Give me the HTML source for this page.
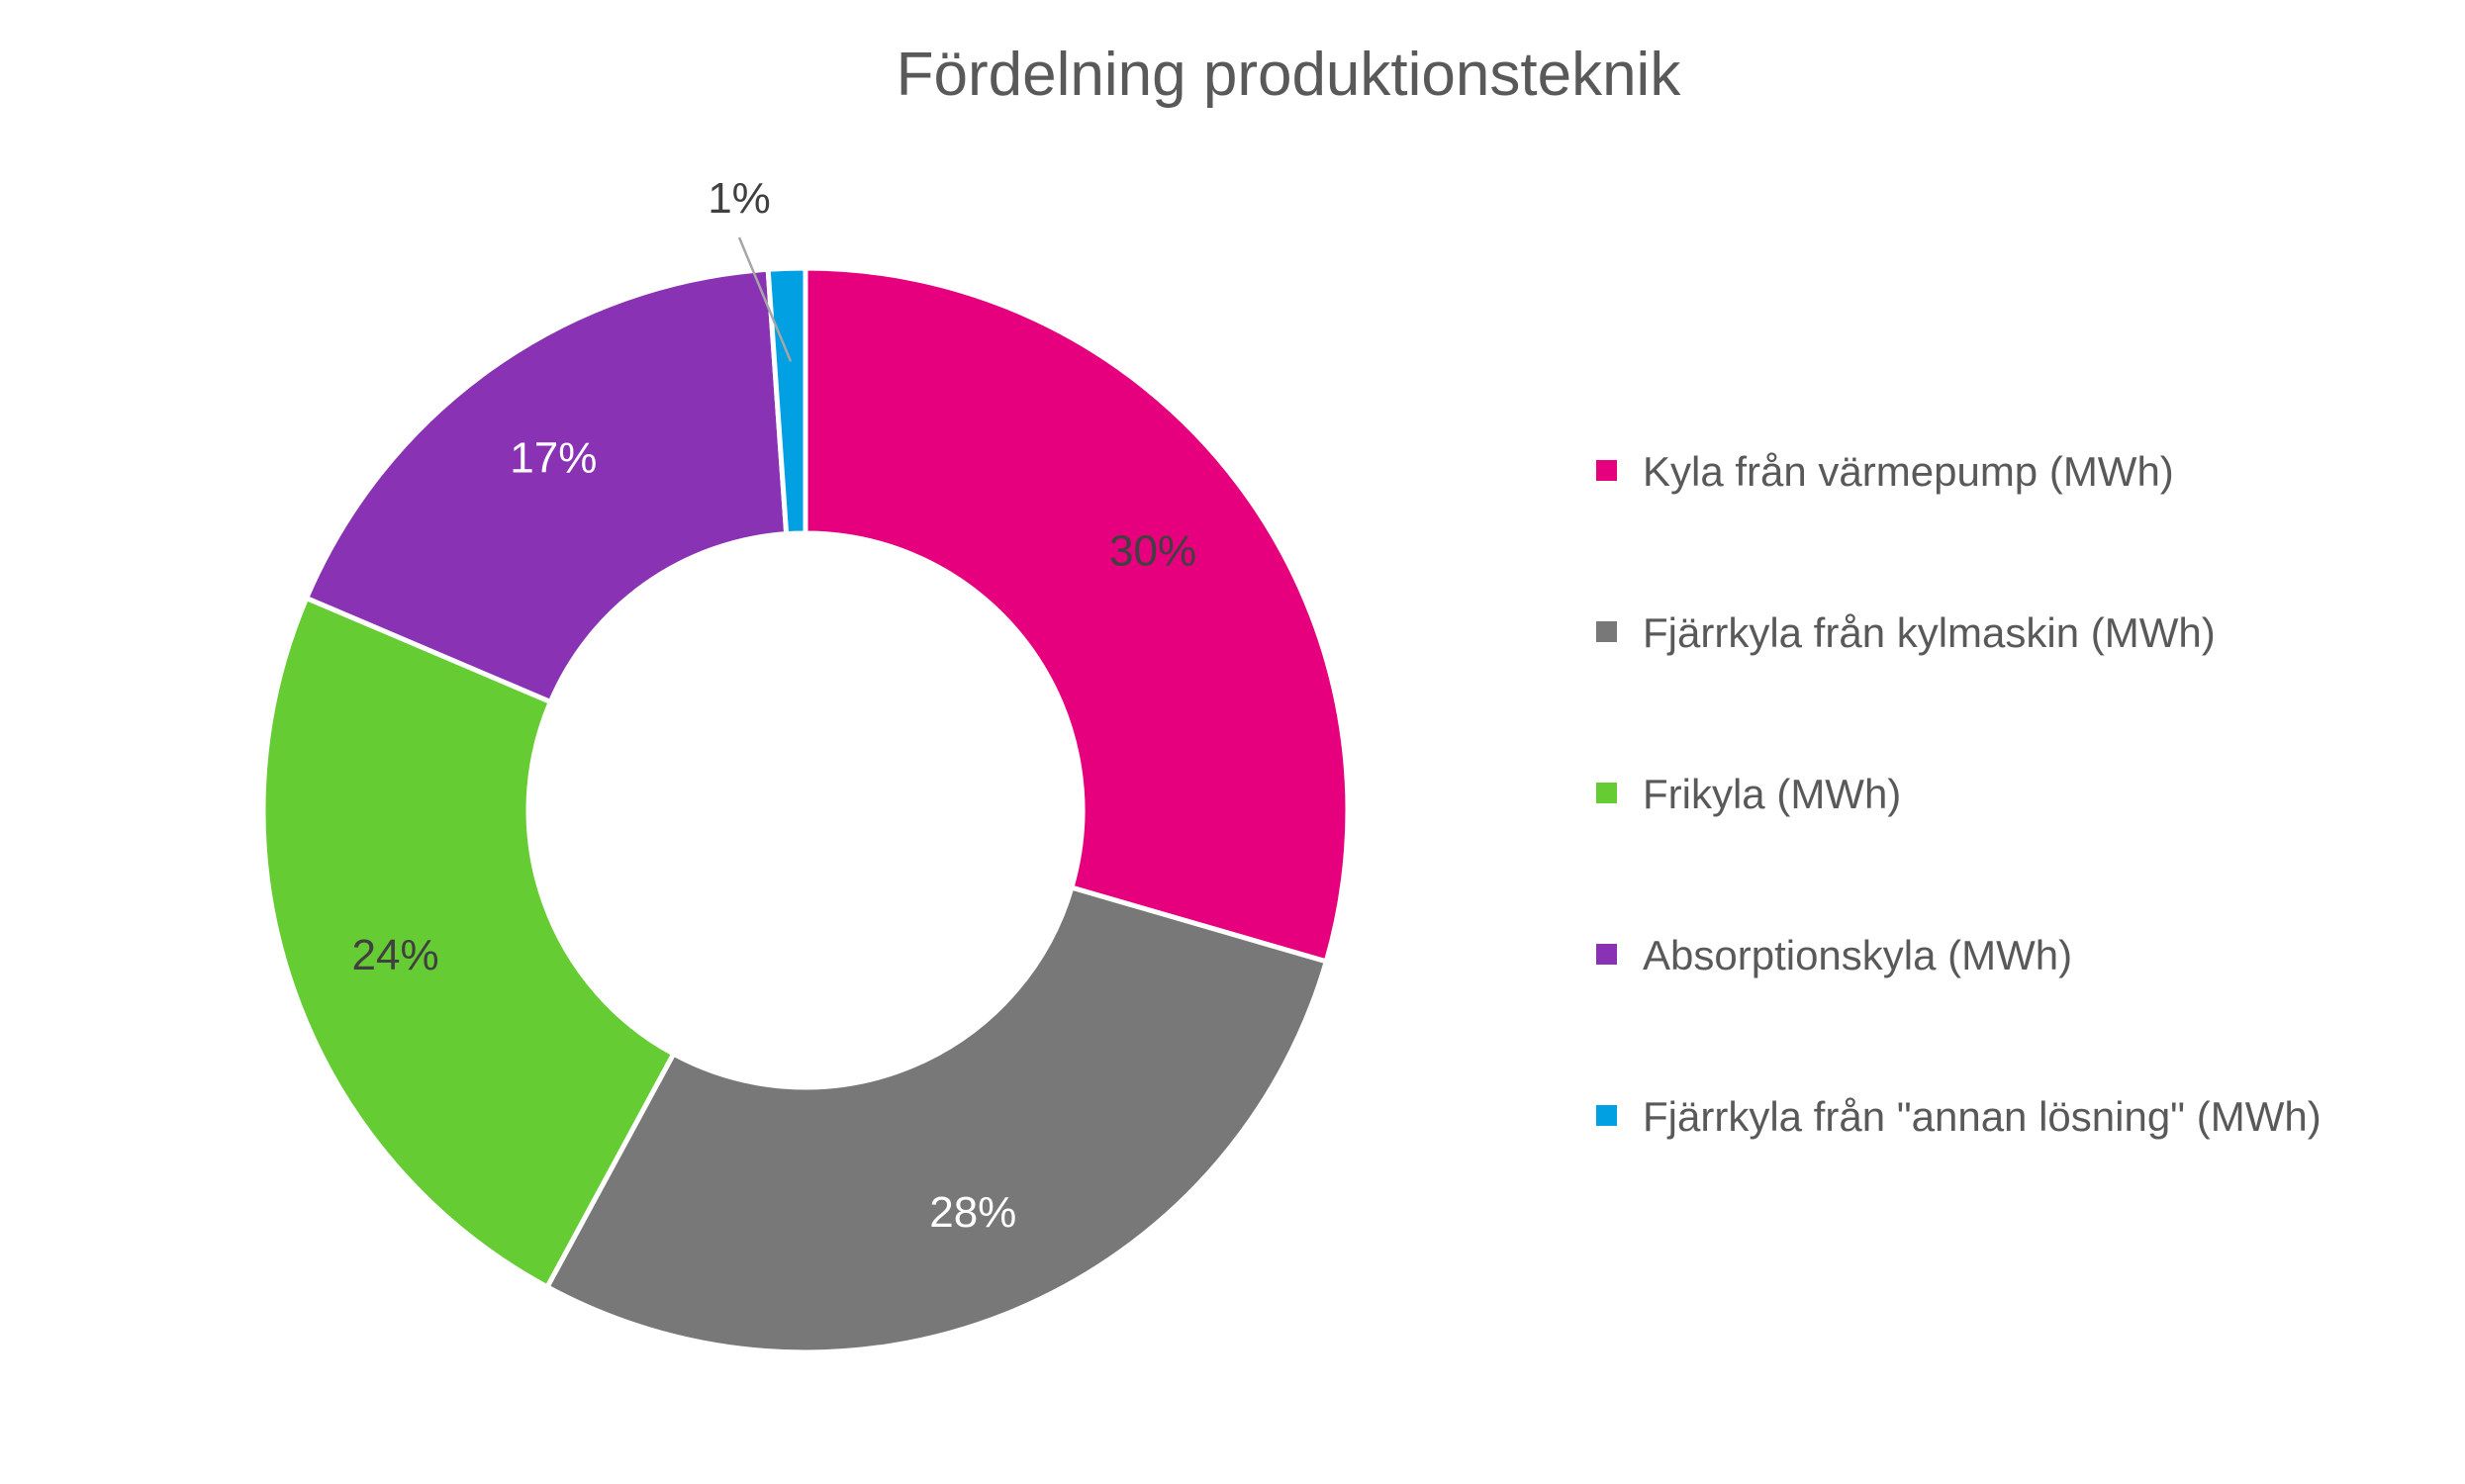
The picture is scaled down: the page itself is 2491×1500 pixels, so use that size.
<!DOCTYPE html>
<html><head><meta charset="utf-8"><style>
html,body{margin:0;padding:0;background:#fff;}
svg{display:block;font-family:"Liberation Sans",sans-serif;}
</style></head><body>
<svg id="chart" width="2491" height="1500" viewBox="0 0 2491 1500">
<rect width="2491" height="1500" fill="#fff"/>
<text x="1302" y="96" text-anchor="middle" font-size="62" fill="#595959">Fördelning produktionsteknik</text>
<g id="slices"></g>
<g id="labels"></g>
<g id="legend"></g>
</svg>
<script>
const categories = ["Kyla från värmepump (MWh)", "Fjärrkyla från kylmaskin (MWh)", "Frikyla (MWh)", "Absorptionskyla (MWh)", "Fjärrkyla från \"annan lösning\" (MWh)"];
const values = [29.5, 28.4, 23.5, 17.5, 1.1];
const valueLabels = ["30%", "28%", "24%", "17%", "1%"];
const colors = ["#e6007e", "#787878", "#66cc33", "#8a32b4", "#00a0e3"];
const labelColors = ["#404040", "#ffffff", "#404040", "#ffffff", "#404040"];

const NS = "http://www.w3.org/2000/svg";
const cx = 814, cy = 819, R = 548, r = 280;
const total = values.reduce((a, b) => a + b, 0);
function angleOf(v) { return v / total * 2 * Math.PI; }
function pt(rad, a) { return [cx + rad * Math.sin(a), cy - rad * Math.cos(a)]; }

const slicesG = document.getElementById('slices');
const labelsG = document.getElementById('labels');
const legendG = document.getElementById('legend');
let acc = 0;
values.forEach((v, i) => {
  const a0 = angleOf(acc), a1 = angleOf(acc + v);
  acc += v;
  const large = (a1 - a0) > Math.PI ? 1 : 0;
  const p0 = pt(R, a0), p1 = pt(R, a1), q1 = pt(r, a1), q0 = pt(r, a0);
  const path = document.createElementNS(NS, 'path');
  path.setAttribute('d', `M${p0[0]},${p0[1]} A${R},${R} 0 ${large} 1 ${p1[0]},${p1[1]} L${q1[0]},${q1[1]} A${r},${r} 0 ${large} 0 ${q0[0]},${q0[1]} Z`);
  path.setAttribute('fill', colors[i]);
  path.setAttribute('stroke', '#fff');
  path.setAttribute('stroke-width', '5');
  
  
  slicesG.appendChild(path);

  const mid = (a0 + a1) / 2;
  let lp;
  if (v < 3) {
    lp = [cx - 67, 215];
    const ln = document.createElementNS(NS, 'line');
    const e = pt((R + r) / 2 + 20, mid);
    ln.setAttribute('x1', cx - 67); ln.setAttribute('y1', 240);
    ln.setAttribute('x2', e[0]); ln.setAttribute('y2', e[1] - 20);
    ln.setAttribute('stroke', '#a6a6a6'); ln.setAttribute('stroke-width', '2.5');
    
    
    labelsG.appendChild(ln);
  } else {
    lp = pt((R + r) / 2 + 25, mid);
    lp[1] += 16;
  }
  const t = document.createElementNS(NS, 'text');
  t.setAttribute('x', lp[0]); t.setAttribute('y', lp[1]);
  t.setAttribute('text-anchor', 'middle');
  t.setAttribute('font-size', '44');
  t.setAttribute('fill', labelColors[i]);
  t.textContent = valueLabels[i];
  
  
  labelsG.appendChild(t);

  const yc = 476 + i * 163;
  const sq = document.createElementNS(NS, 'rect');
  sq.setAttribute('x', 1613); sq.setAttribute('y', yc - 11);
  sq.setAttribute('width', 21); sq.setAttribute('height', 21);
  sq.setAttribute('fill', colors[i]);
  
  
  legendG.appendChild(sq);
  const lt = document.createElementNS(NS, 'text');
  lt.setAttribute('x', 1660); lt.setAttribute('y', yc + 15);
  lt.setAttribute('font-size', '42');
  lt.setAttribute('fill', '#595959');
  lt.textContent = categories[i];
  
  
  legendG.appendChild(lt);
});
</script>
</body></html>
